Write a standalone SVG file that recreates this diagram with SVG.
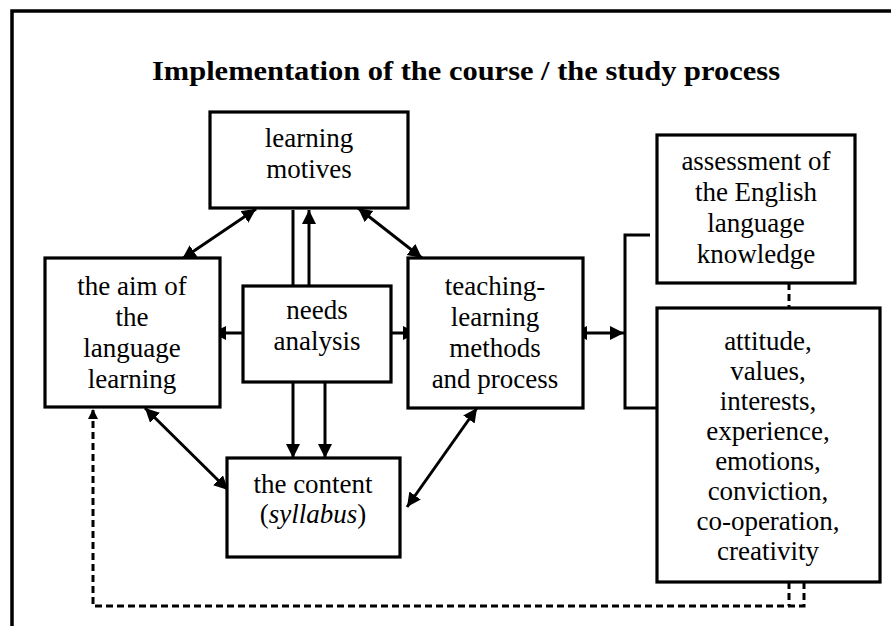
<svg xmlns="http://www.w3.org/2000/svg" width="891" height="626" viewBox="0 0 891 626">
<style>
.box{fill:#fff;stroke:#000;stroke-width:3.2}
.t{font-family:"Liberation Serif","Times New Roman",serif;font-size:27px;fill:#000;text-anchor:middle}
.ln{stroke:#000;stroke-width:3;fill:none}
.dash{stroke:#000;stroke-width:3;fill:none;stroke-dasharray:7 4}
</style>
<defs>
<marker id="ah" markerUnits="userSpaceOnUse" markerWidth="16" markerHeight="16" refX="14" refY="7" orient="auto-start-reverse" viewBox="0 0 16 16">
<path d="M0,0 L14,7 L0,14 z" fill="#000"/>
</marker>
<marker id="ahs" markerUnits="userSpaceOnUse" markerWidth="12" markerHeight="12" refX="10" refY="5" orient="auto" viewBox="0 0 12 12">
<path d="M0,0 L10,5 L0,10 z" fill="#000"/>
</marker>
</defs>
<rect x="0" y="0" width="891" height="626" fill="#fff"/>
<rect x="12" y="11" width="900" height="700" fill="none" stroke="#000" stroke-width="3.5"/>
<text x="466" y="80" font-family="'Liberation Serif','Times New Roman',serif" font-size="28" font-weight="bold" text-anchor="middle" textLength="628" lengthAdjust="spacingAndGlyphs">Implementation of the course / the study process</text>

<g id="connectors">
<line class="ln" x1="256" y1="209" x2="182" y2="259" marker-start="url(#ah)" marker-end="url(#ah)"/>
<line class="ln" x1="358" y1="208" x2="422" y2="258" marker-start="url(#ah)" marker-end="url(#ah)"/>
<line class="ln" x1="293" y1="286" x2="293" y2="210"/>
<line class="ln" x1="309" y1="286" x2="309" y2="210" marker-end="url(#ah)"/>
<line class="ln" x1="243" y1="333" x2="212" y2="333" marker-end="url(#ah)"/>
<line class="ln" x1="391" y1="333" x2="417" y2="333" marker-end="url(#ah)"/>
<line class="ln" x1="293" y1="382" x2="293" y2="458" marker-end="url(#ah)"/>
<line class="ln" x1="325" y1="382" x2="325" y2="458" marker-end="url(#ah)"/>
<line class="ln" x1="145" y1="408" x2="228" y2="490" marker-start="url(#ah)" marker-end="url(#ah)"/>
<line class="ln" x1="477" y1="408" x2="407" y2="507" marker-start="url(#ah)" marker-end="url(#ah)"/>
<line class="ln" x1="573" y1="333" x2="624" y2="333" marker-start="url(#ah)" marker-end="url(#ah)"/>
<polyline class="ln" points="650,235 625,235 625,408 657,408"/>
<line class="dash" x1="789" y1="283" x2="789" y2="308"/>
<polyline class="dash" points="804,582 804,606 93,606 93,409" marker-end="url(#ahs)"/>
<line class="dash" x1="789" y1="582" x2="789" y2="606"/>
</g>

<g id="learning-motives">
<rect class="box" x="210" y="112" width="198" height="96"/>
<text class="t" x="309" y="147">learning</text>
<text class="t" x="309" y="178">motives</text>
</g>

<g id="aim">
<rect class="box" x="45" y="258" width="175" height="149"/>
<text class="t" x="132" y="295">the aim of</text>
<text class="t" x="132" y="326">the</text>
<text class="t" x="132" y="357">language</text>
<text class="t" x="132" y="388">learning</text>
</g>

<g id="needs-analysis">
<rect class="box" x="243" y="286" width="148" height="96"/>
<text class="t" x="317" y="319">needs</text>
<text class="t" x="317" y="350">analysis</text>
</g>

<g id="teaching">
<rect class="box" x="408" y="258" width="175" height="150"/>
<text class="t" x="495" y="295">teaching-</text>
<text class="t" x="495" y="326">learning</text>
<text class="t" x="495" y="357">methods</text>
<text class="t" x="495" y="388">and process</text>
</g>

<g id="content">
<rect class="box" x="227" y="458" width="173" height="99"/>
<text class="t" x="313" y="493">the content</text>
<text class="t" x="313" y="523">(<tspan font-style="italic">syllabus</tspan>)</text>
</g>

<g id="assessment">
<rect class="box" x="657" y="135" width="198" height="148"/>
<text class="t" x="756" y="170">assessment of</text>
<text class="t" x="756" y="201">the English</text>
<text class="t" x="756" y="232">language</text>
<text class="t" x="756" y="263">knowledge</text>
</g>

<g id="attitude">
<rect class="box" x="657" y="308" width="223" height="274"/>
<text class="t" x="768" y="350">attitude,</text>
<text class="t" x="768" y="380">values,</text>
<text class="t" x="768" y="410">interests,</text>
<text class="t" x="768" y="440">experience,</text>
<text class="t" x="768" y="470">emotions,</text>
<text class="t" x="768" y="500">conviction,</text>
<text class="t" x="768" y="530">co-operation,</text>
<text class="t" x="768" y="560">creativity</text>
</g>
</svg>
